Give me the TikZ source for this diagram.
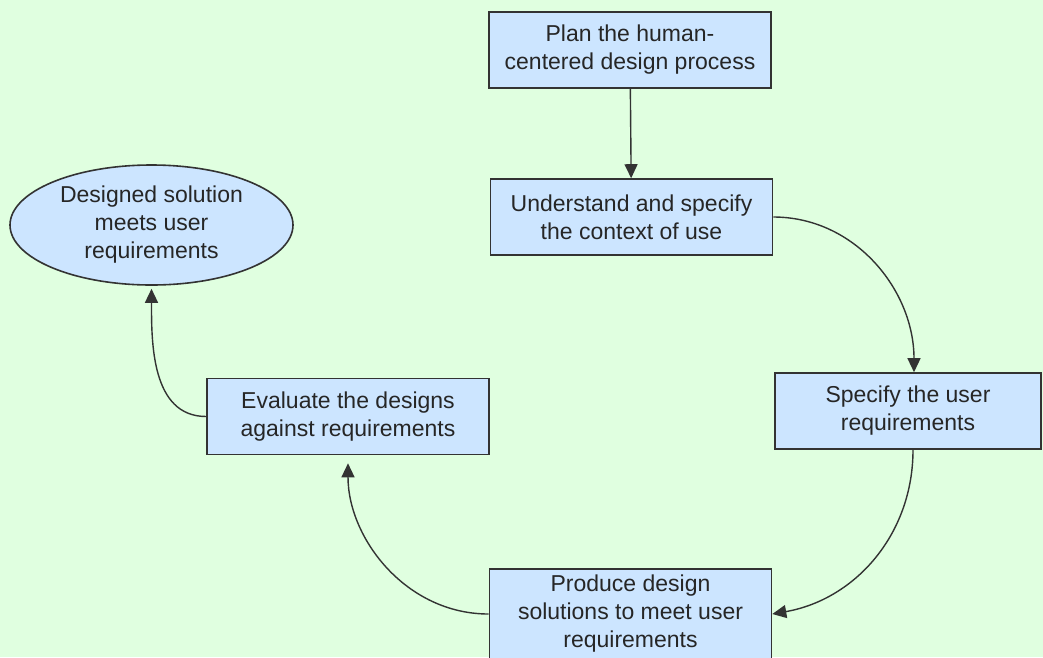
\documentclass[tikz,border=0pt]{standalone}
\usepackage{fontspec}
\setmainfont{Liberation Sans}
\usepackage{xcolor}
\usepackage{tikz}
\usetikzlibrary{arrows.meta, shapes.geometric}
\definecolor{bggreen}{RGB}{224,255,224}
\definecolor{boxblue}{RGB}{204,229,255}
\definecolor{edgegray}{RGB}{51,51,51}

\begin{document}
\begin{tikzpicture}[x=1pt, y=-1pt,
    stepbox/.style={draw=edgegray, line width=1.6pt, fill=boxblue, align=center,
        minimum width=282pt, minimum height=76pt, inner sep=2pt,
        text=black!85, font=\fontsize{23}{28}\selectfont},
    goal/.style={stepbox, ellipse, minimum width=283pt, minimum height=120pt, inner sep=0pt},
    flow/.style={-{Triangle[length=14pt, width=13pt]}, line width=1.4pt, draw=black!80}]
    \path[fill=bggreen, use as bounding box] (0,0) rectangle (1043,657);
    \node[stepbox] (plan) at (630,50) {Plan the human-\\centered design process};
    \node[stepbox] (context) at (631.5,217) {Understand and specify\\the context of use};
    \node[stepbox, minimum width=266pt] (userreq) at (908,411) {Specify the user\\requirements};
    \node[stepbox, minimum height=90pt] (produce) at (630.5,614) {Produce design\\solutions to meet user\\requirements};
    \node[stepbox] (evaluate) at (348,416.5) {Evaluate the designs\\against requirements};
    \node[goal] (meets) at (151.5,225) {Designed solution\\meets user\\requirements};
    \draw[flow] (plan) -- (context);
    \draw[flow] (context.east) to[out=0, in=90] ([xshift=6pt]userreq.north);
    \draw[flow] ([xshift=5pt]userreq.south) to[out=-90, in=10] (produce.east);
    \draw[flow, shorten >=8pt] (produce.west) to[out=180, in=-90] (evaluate.south);
    \draw[flow, shorten >=3pt] (evaluate.west) to[out=180, in=-90] (meets.south);
\end{tikzpicture}
\end{document}
